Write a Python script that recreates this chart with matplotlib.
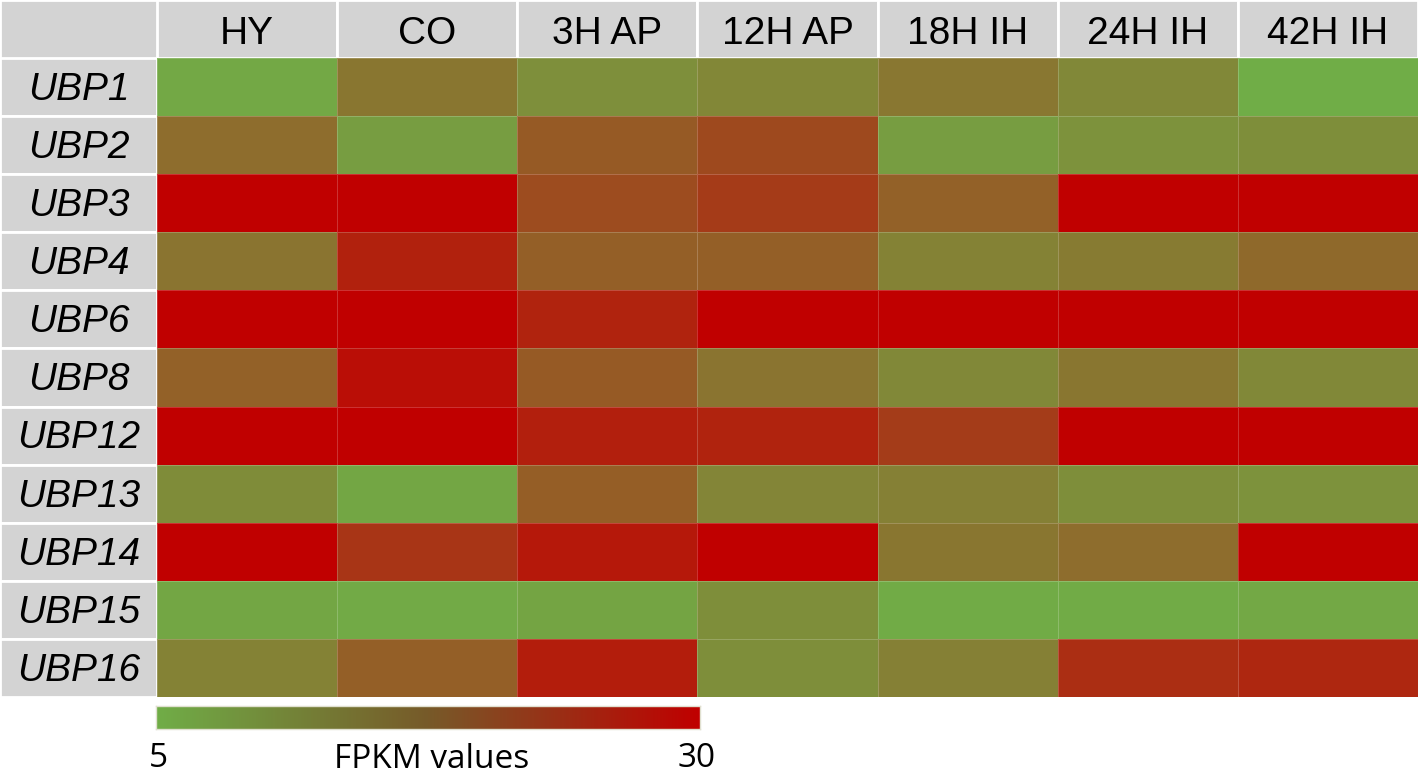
import numpy as np
import matplotlib
matplotlib.use("Agg")
import matplotlib.pyplot as plt
from matplotlib.colors import LinearSegmentedColormap, Normalize

conditions = ["HY", "CO", "3H AP", "12H AP", "18H IH", "24H IH", "42H IH"]
genes = ["UBP1", "UBP2", "UBP3", "UBP4", "UBP6", "UBP8", "UBP12",
         "UBP13", "UBP14", "UBP15", "UBP16"]

ubp1 = [5.8, 13.0, 9.3, 10.5, 12.8, 10.3, 5.0]
ubp2 = [14.3, 7.3, 17.0, 19.5, 7.3, 9.0, 9.5]
ubp3 = [30.0, 30.0, 19.0, 21.5, 16.0, 30.0, 30.0]
ubp4 = [13.3, 25.3, 16.3, 16.3, 11.3, 12.3, 14.8]
ubp6 = [30.0, 30.0, 25.0, 30.0, 30.0, 30.0, 30.0]
ubp8 = [16.0, 28.0, 17.0, 13.3, 10.3, 13.0, 10.3]
ubp12 = [30.0, 30.0, 25.5, 25.0, 21.3, 30.0, 30.0]
ubp13 = [9.8, 6.0, 16.5, 10.8, 11.5, 9.5, 9.0]
ubp14 = [30.0, 22.3, 26.5, 30.0, 13.0, 14.3, 30.0]
ubp15 = [6.0, 5.5, 6.3, 9.5, 5.3, 5.3, 5.8]
ubp16 = [11.3, 16.3, 25.8, 9.5, 11.5, 23.3, 24.3]

vmin, vmax = 5, 30
cbar_labels = ["5", "FPKM values", "30"]

data = np.array([ubp1, ubp2, ubp3, ubp4, ubp6, ubp8, ubp12,
                 ubp13, ubp14, ubp15, ubp16])

W, H = 1418, 774
fig = plt.figure(figsize=(W / 100, H / 100), dpi=100)
fig.patch.set_facecolor("white")

def rect(x0, y0, x1, y1):
    # pixel coords (top-left origin) -> figure fraction
    return [x0 / W, 1 - y1 / H, (x1 - x0) / W, (y1 - y0) / H]

gx0, gx1 = 157, 1418
gy0, gy1 = 58, 697
nrow, ncol = data.shape

cmap = LinearSegmentedColormap.from_list("gr", ["#70AD47", "#C00000"])
norm = Normalize(vmin=vmin, vmax=vmax, clip=True)

# main heatmap
ax = fig.add_axes(rect(gx0, gy0, gx1, gy1))
ax.pcolormesh(np.arange(ncol + 1), np.arange(nrow + 1), data, cmap=cmap,
              norm=norm, edgecolors=(1, 1, 1, 0.2), linewidth=0.6)
ax.set_xlim(0, ncol)
ax.set_ylim(nrow, 0)
ax.axis("off")

gray = "#D3D3D3"
# header row
axh = fig.add_axes(rect(gx0, 0, gx1, gy0))
axh.bar(np.arange(ncol) + 0.5, 1, width=1, bottom=0, color=gray,
        edgecolor="white", linewidth=2)
for i, c in enumerate(conditions):
    axh.text(i + 0.5, 0.42, c, ha="center", va="center", fontsize=28,
             family="Liberation Sans", color="black")
axh.set_xlim(0, ncol)
axh.set_ylim(0, 1)
axh.axis("off")

# row labels
axr = fig.add_axes(rect(0, gy0, gx0, gy1))
axr.barh(np.arange(nrow) + 0.5, 1, height=1, left=0, color=gray,
         edgecolor="white", linewidth=2)
for j, g in enumerate(genes):
    axr.text(0.5, j + 0.55, g, ha="center", va="center", fontsize=28,
             family="Liberation Sans", style="italic", color="black")
axr.set_xlim(0, 1)
axr.set_ylim(nrow, 0)
axr.axis("off")

# top-left corner
axc = fig.add_axes(rect(0, 0, gx0, gy0))
axc.bar([0.5], [1], width=1, color=gray, edgecolor="white", linewidth=2)
axc.set_xlim(0, 1)
axc.set_ylim(0, 1)
axc.axis("off")

# colour bar
cb_cmap = LinearSegmentedColormap.from_list(
    "cb", [(0, "#70AD47"), (0.5, "#775A29"), (1, "#C00000")])
axb = fig.add_axes(rect(156, 706, 700, 729))
grad = np.linspace(vmin, vmax, 512).reshape(1, -1)
axb.imshow(grad, cmap=cb_cmap, aspect="auto", extent=(vmin, vmax, 0, 1),
           vmin=vmin, vmax=vmax)
axb.set_xticks([])
axb.set_yticks([])
for s in axb.spines.values():
    s.set_edgecolor("#E0E0D0")
    s.set_linewidth(1)

fig.text(149 / W, 1 - 767 / H, cbar_labels[0], ha="left", va="baseline",
         fontsize=24, family="Open Sans")
fig.text(432 / W, 1 - 768 / H, cbar_labels[1], ha="center", va="baseline",
         fontsize=24, family="Open Sans")
fig.text(716 / W, 1 - 767 / H, cbar_labels[2], ha="right", va="baseline",
         fontsize=24, family="Open Sans")

fig.savefig("out.png", dpi=100, facecolor="white")
